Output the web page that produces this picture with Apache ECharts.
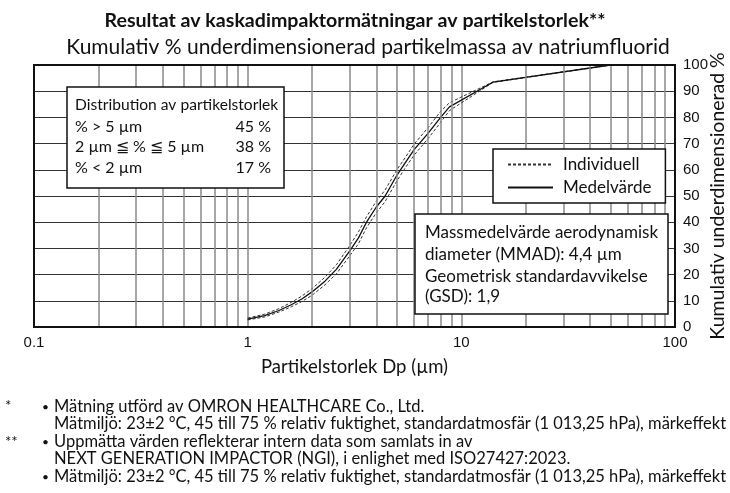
<!DOCTYPE html>
<html>
<head>
<meta charset="utf-8">
<script src="https://cdn.jsdelivr.net/npm/echarts@6/dist/echarts.min.js"></script>
<style>
  html, body { margin: 0; padding: 0; background: #fff; }
  #main { width: 730px; height: 493px; }
</style>
</head>
<body>
<div id="main"></div>
<script>
// particle size (µm) and cumulative undersize mass (%)
const sizes = [1.0, 1.2, 1.4, 1.6, 1.8, 2.0, 2.3, 2.6, 3.0, 3.3, 3.6, 4.0, 4.4, 5.0, 5.5, 6.0, 7.0, 8.0, 8.8, 14.1, 50]
const meanValues = [3.0, 4.3, 6.3, 8.5, 10.8, 13.4, 17.5, 22.0, 29.0, 34.0, 40.0, 45.8, 50.0, 58.0, 63.0, 67.6, 74.0, 80.0, 84.0, 93.5, 100]
const indivHigh = [3.4, 4.9, 7.0, 9.4, 11.9, 14.6, 19.0, 23.7, 31.0, 36.3, 42.1, 48.0, 52.3, 60.1, 65.0, 69.7, 76.2, 82.3, 85.6, 93.6, 100]
const indivLow = [2.7, 3.8, 5.7, 7.7, 9.8, 12.1, 16.1, 20.3, 27.1, 31.8, 37.9, 43.6, 47.9, 55.8, 61.1, 65.5, 72.0, 78.1, 82.6, 93.4, 100]
const yTicks = [0, 10, 20, 30, 40, 50, 60, 70, 80, 90, 100]
const minorGridX = [0.2, 0.3, 0.4, 0.5, 0.6, 0.7, 0.8, 0.9, 2, 3, 4, 5, 6, 7, 8, 9, 20, 30, 40, 50, 60, 70, 80, 90]
const yAxisTitle = 'Kumulativ underdimensionerad %'

const FONT = 'Lato, "Noto Sans", sans-serif'
const NUMFONT = '"Liberation Sans", Arial, sans-serif'

const pair = (ys) => sizes.map((x, i) => [x, ys[i]])

const chartDom = document.getElementById('main')
const myChart = echarts.init(chartDom)

const boxText = (x, y, text, size, align) => ({
  type: 'text',
  x: x,
  y: y,
  z: 101,
  style: {
    text: text,
    fill: '#111',
    font: size + 'px ' + FONT,
    textAlign: align || 'left',
    textVerticalAlign: 'middle'
  }
})

const noteText = (x, y, text, size) => ({
  type: 'text',
  x: x,
  y: y,
  style: {
    text: text,
    fill: '#111',
    font: (size || 16.5) + 'px ' + FONT,
    textVerticalAlign: 'middle'
  }
})

const option = {
  animation: false,
  backgroundColor: '#fff',
  title: [
    {
      text: 'Resultat av kaskadimpaktormätningar av partikelstorlek**',
      left: 350,
      top: 6,
      textAlign: 'center',
      textStyle: { fontFamily: FONT, fontWeight: 'bold', fontSize: 19.6, color: '#111' }
    },
    {
      text: 'Kumulativ % underdimensionerad partikelmassa av natriumfluorid',
      left: 363,
      top: 32,
      textAlign: 'center',
      textStyle: { fontFamily: FONT, fontWeight: 'normal', fontSize: 21, color: '#111' }
    }
  ],
  grid: {
    left: 34,
    right: 55,
    top: 65,
    bottom: 166,
    outerBoundsMode: 'none',
    containLabel: false,
    show: true,
    borderColor: '#111',
    borderWidth: 2,
    z: 10
  },
  legend: {
    data: ['Individuell', 'Medelvärde'],
    orient: 'vertical',
    left: 493,
    top: 149,
    padding: [7, 14, 7, 14],
    itemGap: 6,
    itemWidth: 45,
    itemHeight: 14,
    backgroundColor: '#fff',
    borderColor: '#111',
    borderWidth: 1.5,
    borderRadius: 0,
    itemStyle: { opacity: 0, borderWidth: 0 },
    textStyle: { fontFamily: FONT, fontSize: 17, color: '#111', padding: [0, 0, 0, 5] },
    z: 100
  },
  xAxis: {
    type: 'log',
    logBase: 10,
    min: 0.1,
    max: 100,
    name: 'Partikelstorlek Dp (µm)',
    nameLocation: 'middle',
    nameGap: 31,
    nameTextStyle: { fontFamily: FONT, fontSize: 18.5, color: '#111' },
    axisLine: { show: false },
    axisTick: { show: false },
    axisLabel: {
      fontFamily: NUMFONT,
      fontSize: 15,
      color: '#111',
      margin: 8,
      formatter: (v) => String(v)
    },
    splitLine: { show: true, lineStyle: { color: '#8a8a8a', width: 1.5 } }
  },
  yAxis: {
    type: 'value',
    position: 'right',
    min: 0,
    max: 100,
    interval: 10,
    axisLine: { show: false },
    axisTick: { show: false },
    axisLabel: {
      fontFamily: NUMFONT,
      fontSize: 15,
      color: '#111',
      margin: 8,
      customValues: yTicks
    },
    splitLine: { show: true, lineStyle: { color: '#333', width: 1 } }
  },
  series: [
    {
      name: 'grid',
      type: 'line',
      data: pair(meanValues),
      silent: true,
      symbol: 'none',
      z: 1,
      lineStyle: { opacity: 0, width: 0 },
      markLine: {
        silent: true,
        symbol: 'none',
        animation: false,
        label: { show: false },
        lineStyle: { color: '#8a8a8a', width: 1.5, type: 'solid' },
        data: minorGridX.map((v) => ({ xAxis: v }))
      }
    },
    {
      name: 'Individuell',
      type: 'line',
      data: pair(indivHigh),
      symbol: 'none',
      z: 3,
      lineStyle: { color: '#333', width: 1, type: [3, 2] },
      itemStyle: { color: '#333' }
    },
    {
      name: 'Individuell',
      type: 'line',
      data: pair(indivLow),
      symbol: 'none',
      z: 3,
      lineStyle: { color: '#333', width: 1, type: [3, 2] },
      itemStyle: { color: '#333' }
    },
    {
      name: 'Medelvärde',
      type: 'line',
      data: pair(meanValues),
      symbol: 'none',
      z: 4,
      lineStyle: { color: '#111', width: 1.3, type: 'solid' },
      itemStyle: { color: '#111' }
    }
  ],
  graphic: [
    {
      type: 'text',
      x: 718,
      y: 196,
      rotation: Math.PI / 2,
      style: {
        text: yAxisTitle,
        fill: '#111',
        font: '19.5px ' + FONT,
        textAlign: 'center',
        textVerticalAlign: 'middle'
      }
    },
    {
      type: 'rect',
      z: 100,
      shape: { x: 67, y: 87, width: 217, height: 101 },
      style: { fill: '#fff', stroke: '#111', lineWidth: 1.5 }
    },
    boxText(75, 105, 'Distribution av partikelstorlek', 15.6),
    boxText(75, 127, '% > 5 µm', 16),
    boxText(271, 127, '45 %', 16, 'right'),
    boxText(75, 147, '2 µm ≦ % ≦ 5 µm', 16),
    boxText(271, 147, '38 %', 16, 'right'),
    boxText(75, 168, '% < 2 µm', 16),
    boxText(271, 168, '17 %', 16, 'right'),
    {
      type: 'rect',
      z: 100,
      shape: { x: 415, y: 214, width: 253, height: 100 },
      style: { fill: '#fff', stroke: '#111', lineWidth: 1.5 }
    },
    boxText(425, 233, 'Massmedelvärde aerodynamisk', 17),
    boxText(425, 255, 'diameter (MMAD): 4,4 µm', 17),
    boxText(425, 277, 'Geometrisk standardavvikelse', 17),
    boxText(425, 297, '(GSD): 1,9', 17),
    noteText(5, 406, '*', 15),
    noteText(42, 407, '•', 12),
    noteText(54, 407, 'Mätning utförd av OMRON HEALTHCARE Co., Ltd.'),
    noteText(54, 424, 'Mätmiljö: 23±2 °C, 45 till 75 % relativ fuktighet, standardatmosfär (1 013,25 hPa), märkeffekt'),
    noteText(5, 442, '**', 15),
    noteText(42, 442, '•', 12),
    noteText(54, 442, 'Uppmätta värden reflekterar intern data som samlats in av'),
    noteText(54, 459, 'NEXT GENERATION IMPACTOR (NGI), i enlighet med ISO27427:2023.'),
    noteText(42, 477, '•', 12),
    noteText(54, 477, 'Mätmiljö: 23±2 °C, 45 till 75 % relativ fuktighet, standardatmosfär (1 013,25 hPa), märkeffekt')
  ]
}

option && myChart.setOption(option)

window.addEventListener('resize', function () {
  myChart.resize()
})
</script>
</body>
</html>
